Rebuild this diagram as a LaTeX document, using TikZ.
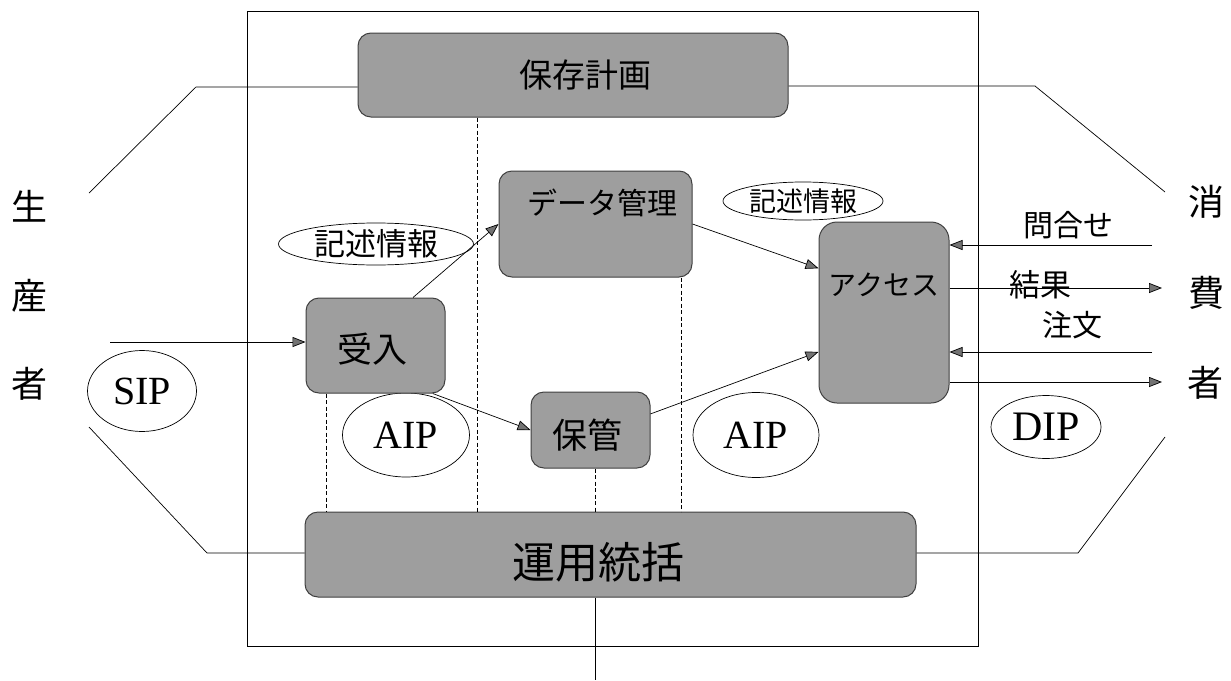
\documentclass[tikz,border=0pt]{standalone}
\usepackage{fontspec}
\setmainfont{Liberation Serif}
\newfontfamily\jp{Noto Sans CJK JP}
\usetikzlibrary{arrows.meta,shapes.geometric}
\newcommand\fsz[1]{\fontsize{#1}{#1}\selectfont}
\begin{document}
\begin{tikzpicture}[x=1pt,y=-1pt,
  box/.style={draw=black!75, fill=black!38, rounded corners=13pt, line width=1pt, inner sep=0pt},
  ell/.style={ellipse, draw, fill=white, inner sep=0pt, line width=0.7pt},
  conn/.style={line width=0.7pt},
  arr/.style={conn, -{Triangle[length=13pt,width=10pt,fill=black!55]}},
  dline/.style={line width=0.7pt, dash pattern=on 4pt off 2.5pt},
  jtext/.style={font=\jp\fsz{#1}, inner sep=0pt},
  etext/.style={font=\fsz{#1}}
]
\useasboundingbox (0,0) rectangle (1231,680);
% outer frame
\node[draw, line width=0.8pt, minimum width=731pt, minimum height=635pt, anchor=north west, inner sep=0pt] (frame) at (247,11) {};

% ellipses
\node[ell, minimum width=195pt, minimum height=42pt] (desc1) at (376,244) {\jp\fsz{31}記述情報};
\node[ell, minimum width=160pt, minimum height=38pt] (desc2) at (803,201) {\jp\fsz{27}記述情報};
\node[ell, minimum width=109pt, minimum height=81pt] (sip) at (142,391) {\fsz{40}SIP};
\node[ell, minimum width=127pt, minimum height=84pt] (aip1) at (406,435) {\fsz{40}AIP};
\node[ell, minimum width=126pt, minimum height=85pt] (aip2) at (756,435) {\fsz{40}AIP};
\node[ell, minimum width=110pt, minimum height=63pt] (dip) at (1046,427) {\fsz{42}DIP};

% boxes
\node[box, minimum width=430pt, minimum height=84pt] (plan) at (573,75) {};
\node[jtext=33] (plantext) at (585,75) {保存計画};
\node[box, minimum width=193pt, minimum height=106pt] (data) at (595.5,224) {};
\node[jtext=30] (datatext) at (602,203) {データ管理};
\node[box, minimum width=139pt, minimum height=95pt] (ingest) at (375.5,345.5) {};
\node[jtext=35] (ingesttext) at (372,349) {受入};
\node[box, minimum width=119pt, minimum height=76pt] (store) at (590.5,430) {};
\node[jtext=35] (storetext) at (587,435) {保管};
\node[box, rounded corners=18pt, minimum width=130pt, minimum height=181pt] (access) at (884,312.5) {};
\node[jtext=28] (accesstext) at (884,285) {アクセス};
\node[box, minimum width=611pt, minimum height=85pt] (admin) at (610.5,554.5) {};
\node[jtext=43] (admintext) at (598,562) {運用統括};

% producer / consumer
\node[jtext=36] (p1) at (30,206) {生};
\node[jtext=36] (p2) at (30,296) {産};
\node[jtext=36] (p3) at (30,384) {者};
\node[jtext=36] (c1) at (1206,202) {消};
\node[jtext=36] (c2) at (1206,293) {費};
\node[jtext=36] (c3) at (1205,383) {者};

% side lines
\coordinate (la) at (89,193);
\coordinate (lb) at (196,87);
\draw[conn] (la) -- (lb) -- (lb -| plan.west);
\coordinate (ra) at (1165,192);
\coordinate (rb) at (1035,86);
\draw[conn] (ra) -- (rb) -- (rb -| plan.east);
\coordinate (lc) at (89,427);
\coordinate (ld) at (207,553);
\draw[conn] (lc) -- (ld) -- (ld -| admin.west);
\coordinate (rc) at (1165,437);
\coordinate (rd) at (1078,553);
\draw[conn] (rc) -- (rd) -- (rd -| admin.east);

% dashed lines
\coordinate (dx1) at (326,0);
\coordinate (dx2) at (477,0);
\coordinate (dx3) at (595,0);
\coordinate (dx4) at (681,0);
\draw[dline] (ingest.south -| dx1) -- (admin.north -| dx1);
\draw[dline] (plan.south -| dx2) -- (admin.north -| dx2);
\draw[dline] (store.south -| dx3) -- (admin.north -| dx3);
\draw[dline] (data.south -| dx4) -- (admin.north -| dx4);
\coordinate (bot) at (595,680);
\draw[conn] (admin.south -| bot) -- (bot);

% arrows
\coordinate (inp) at (110,342);
\draw[arr] (inp) -- (inp -| ingest.west);
\draw[arr] (ingest.52) -- (data.west);
\draw[arr] (ingest.-40) -- (store.west);
\draw[arr] (data.east) -- (access.146);
\draw[arr] (store.15) -- (access.211);

\coordinate (q1) at (1152,245);
\coordinate (q2) at (1162,288);
\coordinate (q3) at (1152,352);
\coordinate (q4) at (1162,382);
\draw[arr] (q1) -- (q1 -| access.east);
\draw[arr] (q2 -| access.east) -- (q2);
\draw[arr] (q3) -- (q3 -| access.east);
\draw[arr] (q4 -| access.east) -- (q4);

\node[jtext=30] (lq1) at (1068,225) {問合せ};
\node[jtext=31] (lq2) at (1040,285) {結果};
\node[jtext=30] (lq3) at (1072,325) {注文};
\end{tikzpicture}
\end{document}
